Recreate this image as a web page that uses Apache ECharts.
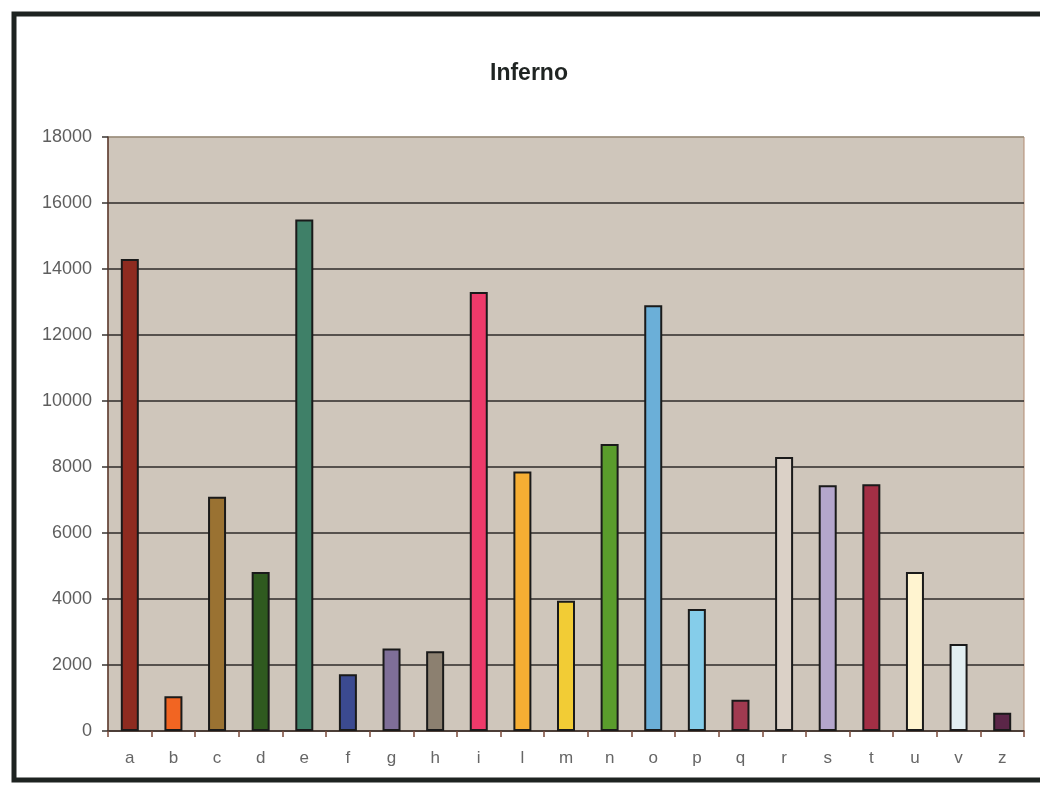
<!DOCTYPE html>
<html>
<head>
<meta charset="utf-8">
<title>Inferno</title>
<script src="https://cdn.jsdelivr.net/npm/echarts@6/dist/echarts.min.js"></script>
<style>
html, body { margin: 0; padding: 0; background: #fff; }
#chart { width: 1040px; height: 788px; }
</style>
</head>
<body>
<div id="chart"></div>
<script>
// categorie e valori
var categories = ['a', 'b', 'c', 'd', 'e', 'f', 'g', 'h', 'i', 'l', 'm', 'n', 'o', 'p', 'q', 'r', 's', 't', 'u', 'v', 'z'];
var values = [14300, 1050, 7100, 4820, 15500, 1720, 2500, 2420, 13300, 7860, 3950, 8700, 12900, 3700, 950, 8300, 7450, 7480, 4820, 2640, 550];
var yTicks = [0, 2000, 4000, 6000, 8000, 10000, 12000, 14000, 16000, 18000];

// un colore per barra
var barColors = ['#8E2B20', '#F26522', '#9A7232', '#2F5A1F', '#3F8068', '#3B4A90', '#7F6F98',
    '#8C8070', '#EE3A6A', '#F6AE33', '#F2CC35', '#5A9C2C', '#6BAFD8', '#85CDEA', '#A03A50',
    '#DBD1C7', '#B4A6CC', '#A32F45', '#FFF4D0', '#E2EFF2', '#5B2648'];

var myChart = echarts.init(document.getElementById('chart'));

var barData = [];
for (var i = 0; i < values.length; i++) {
    barData.push({
        value: values[i],
        itemStyle: { color: barColors[i] }
    });
}

// griglia: l'ultima linea (18000) e' piu' chiara
var gridColors = [];
for (var k = 0; k < yTicks.length; k++) {
    gridColors.push(k === yTicks.length - 1 ? '#9a9080' : '#2e2a28');
}

var option = {
    backgroundColor: '#ffffff',
    animation: false,
    title: {
        text: 'Inferno',
        left: 485,
        top: 57,
        textStyle: {
            fontFamily: 'Liberation Sans, Arial, sans-serif',
            fontSize: 23,
            fontWeight: 'bold',
            color: '#1f2422'
        }
    },
    graphic: [
        {
            // cornice esterna
            type: 'rect',
            shape: { x: 14, y: 14, width: 1060, height: 766 },
            style: { fill: 'none', stroke: '#1e2321', lineWidth: 5 },
            z: 100
        }
    ],
    grid: {
        left: 108,
        right: 16,
        top: 137,
        bottom: 57,
        show: true,
        backgroundColor: '#CFC6BB',
        borderColor: '#b08a70',
        borderWidth: 1
    },
    xAxis: {
        type: 'category',
        data: categories,
        axisLine: { lineStyle: { color: '#4a3a32', width: 1.5 } },
        axisTick: { show: true, length: 6, lineStyle: { color: '#7a4a3a', width: 1.5 } },
        axisLabel: {
            margin: 19,
            fontFamily: 'Liberation Sans, Arial, sans-serif',
            fontSize: 17,
            color: '#666666'
        }
    },
    yAxis: {
        type: 'value',
        min: 0,
        max: 18000,
        interval: 2000,
        axisLine: { show: true, lineStyle: { color: '#5a3a30', width: 1.5 } },
        axisTick: { show: true, length: 6, lineStyle: { color: '#3a3432', width: 1.5 } },
        axisLabel: {
            margin: 16,
            fontFamily: 'Liberation Sans, Arial, sans-serif',
            fontSize: 18,
            color: '#5e5e5e',
            formatter: function (v) { return String(v); }
        },
        splitLine: { show: true, lineStyle: { color: gridColors, width: 1.5 } }
    },
    series: [
        {
            type: 'bar',
            data: barData,
            barWidth: 18,
            itemStyle: { borderColor: '#1a1a1a', borderWidth: 2 }
        }
    ]
};

myChart.setOption(option);
</script>
</body>
</html>
